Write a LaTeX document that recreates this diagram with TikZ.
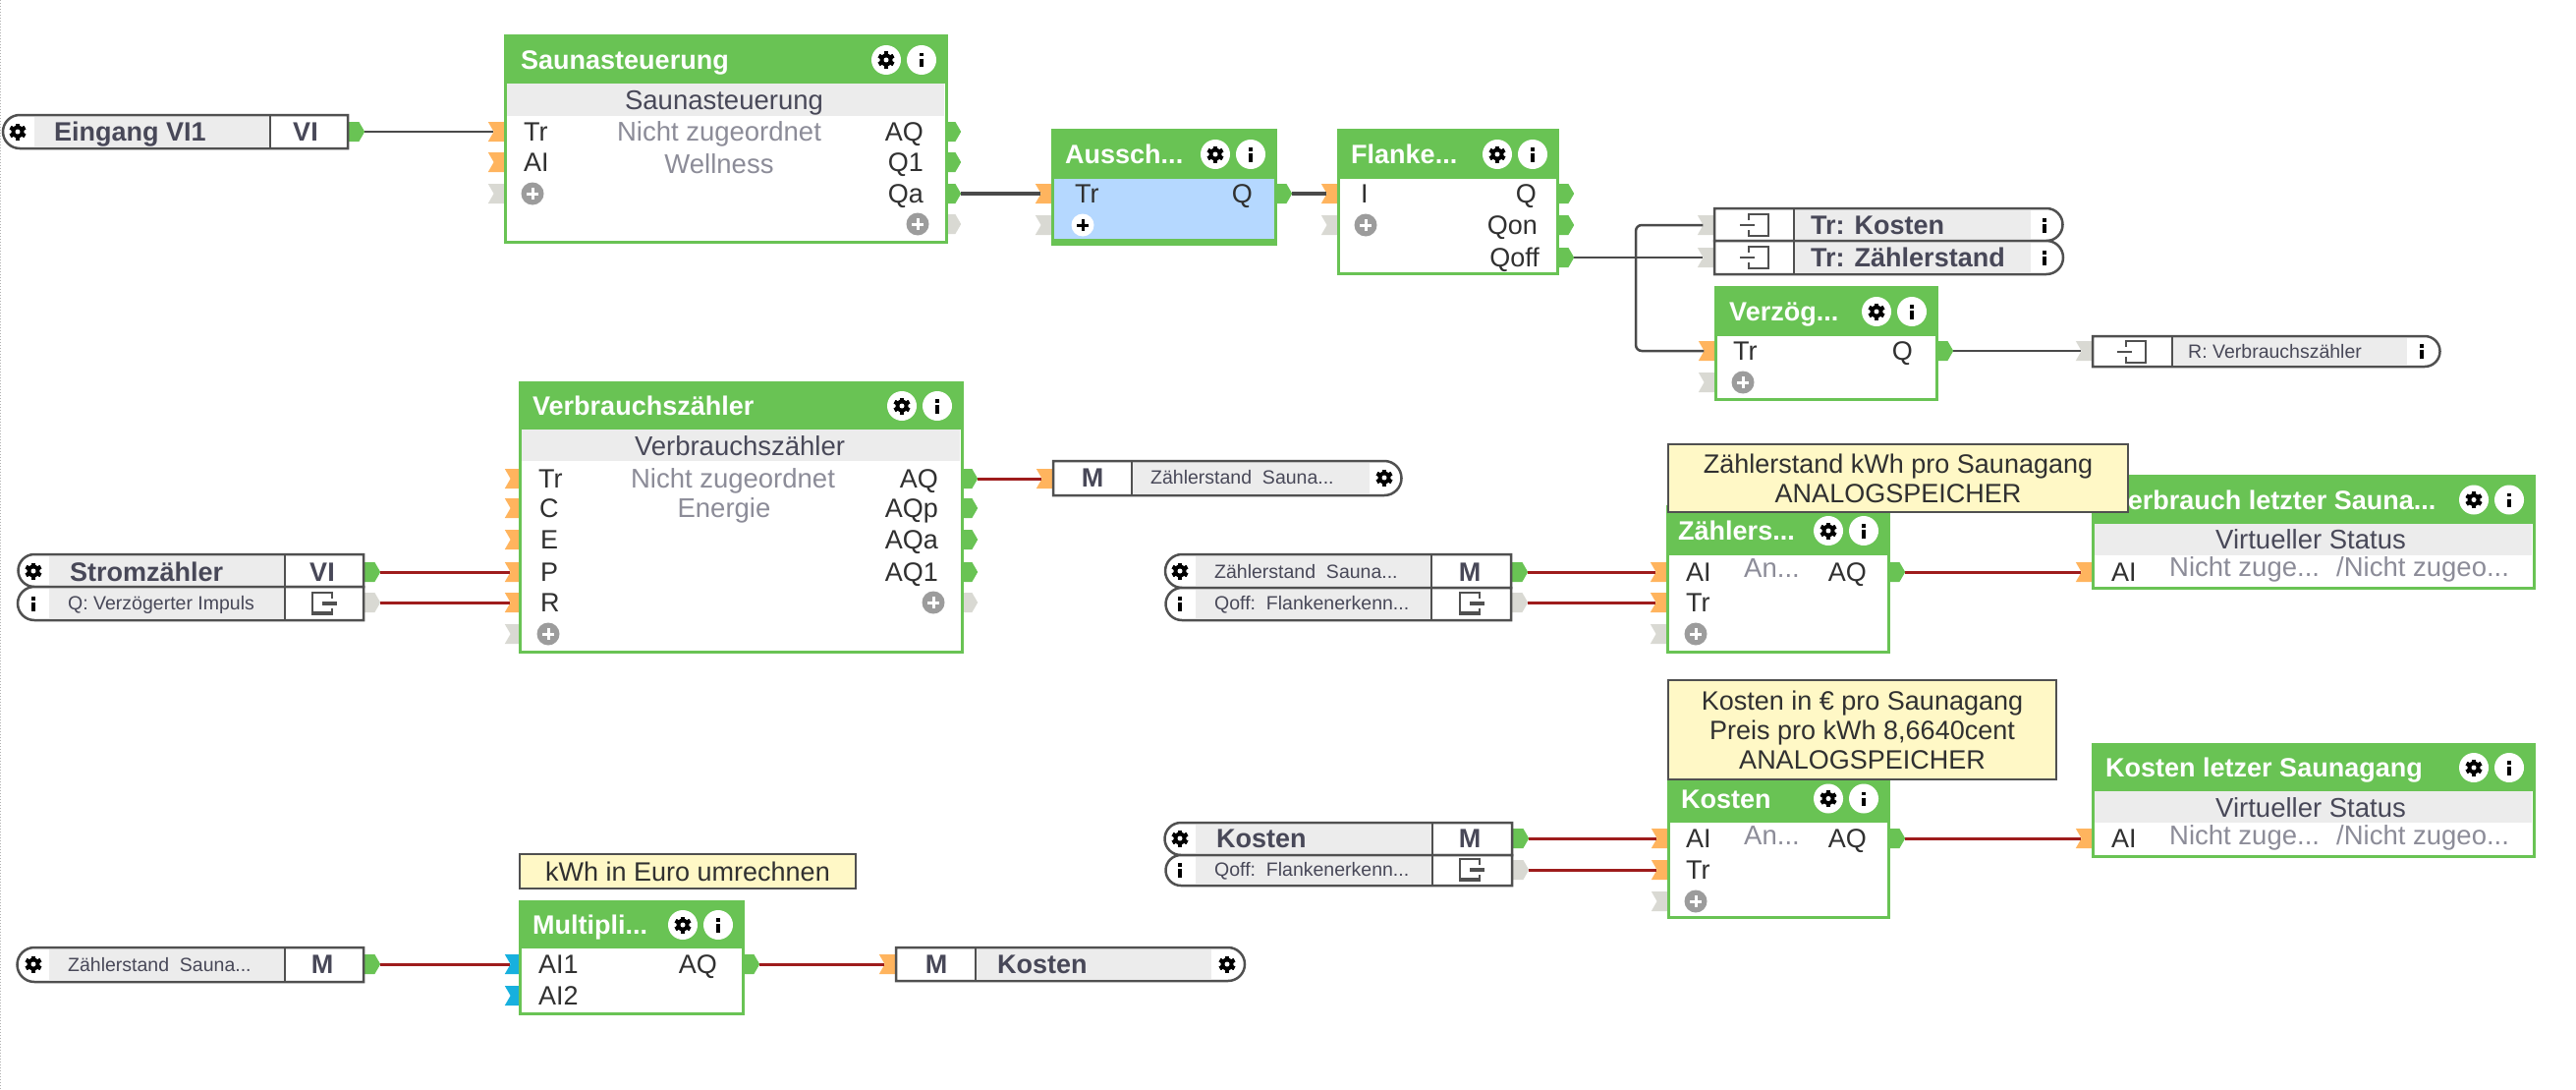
\documentclass[tikz,border=0pt]{standalone}
\usepackage{fontspec}
\setmainfont{Liberation Sans}
\usepackage{xcolor}
\usepackage{tikz}
\usetikzlibrary{
  positioning,
  arrows.meta,
  shapes.misc,
  shapes.symbols,
  fit
}
\newcommand{\tdots}{...}
\definecolor{hdrgreen}{HTML}{69C354}
\definecolor{portorange}{HTML}{FFB45E}
\definecolor{portgray}{HTML}{D9D9D3}
\definecolor{portblue}{HTML}{17B0DE}
\definecolor{bandgray}{HTML}{ECECEC}
\definecolor{selblue}{HTML}{B5D8FF}
\definecolor{notefill}{HTML}{FFF8C6}
\definecolor{capedge}{HTML}{505050}
\definecolor{wiregray}{HTML}{4A4A4A}
\definecolor{wirered}{HTML}{9E1C1C}
\definecolor{plusgray}{HTML}{9C9C9C}
\definecolor{txtdark}{HTML}{303030}
\definecolor{txtband}{HTML}{484858}
\definecolor{txtsoft}{HTML}{8C8C98}
\tikzset{
  inport/.style={signal,signal to=nowhere,signal from=west,signal pointer angle=120,fill=portorange,minimum width=17pt,minimum height=20pt,inner sep=0pt,anchor=east},
  ingray/.style={inport,fill=portgray},
  inblue/.style={inport,fill=portblue},
  outport/.style={signal,signal to=east,signal from=nowhere,signal pointer angle=120,fill=hdrgreen,minimum width=17pt,minimum height=20pt,inner sep=0pt,anchor=west},
  outgray/.style={outport,fill=portgray},
  blockbody/.style={rectangle,draw=hdrgreen,line width=3pt,inner sep=0pt},
  hdr/.style={rectangle,fill=hdrgreen,inner sep=0pt},
  band/.style={rectangle,fill=bandgray,inner sep=0pt},
  capleft/.style={rounded rectangle,rounded rectangle right arc=none,draw=capedge,line width=2.5pt,fill=white,inner sep=0pt},
  capright/.style={rounded rectangle,rounded rectangle left arc=none,draw=capedge,line width=2.5pt,fill=white,inner sep=0pt},
  capline/.style={draw=capedge,line width=2.5pt},
  iconbg/.style={circle,fill=white,minimum size=30pt,inner sep=0pt},
  lbl/.style={inner sep=0pt,text height=19pt,text depth=0pt,anchor=west,text=txtdark,font=\fontsize{27}{31}\selectfont},
  lblr/.style={lbl,anchor=east},
  lblc/.style={lbl,anchor=center},
  softlbl/.style={lbl,text=txtsoft,font=\fontsize{27.5}{31}\selectfont},
  softc/.style={softlbl,anchor=center},
  bandlbl/.style={lblc,text=txtband,font=\fontsize{27.5}{31}\selectfont},
  titlelbl/.style={lbl,text=white,font=\fontsize{27}{31}\selectfont\bfseries},
  boldlbl/.style={lbl,text=txtband,font=\fontsize{27}{31}\selectfont\bfseries},
  boldc/.style={boldlbl,anchor=center},
  smalllbl/.style={lbl,text=txtband,text height=14pt,font=\fontsize{19.5}{22}\selectfont},
  notebox/.style={rectangle,draw=capedge,line width=2.5pt,fill=notefill,align=center,inner sep=0pt,text=txtdark,font=\fontsize{27}{30}\selectfont},
  wire/.style={draw=wiregray,line width=2.5pt},
  thickwire/.style={draw=wiregray,line width=4pt},
  redwire/.style={draw=wirered,line width=3pt},
  gearicon/.pic={
    \foreach \a in {0,60,...,300}
      \fill[black,rotate=\a] (-2,-8.5) rectangle (2,8.5);
    \fill[black] (0,0) circle (6.5);
    \fill[white] (0,0) circle (2.5);
  },
  infoicon/.pic={
    \fill[black] (-2,-7) rectangle (2,-3.5);
    \fill[black] (-2,-1) rectangle (2,7.5);
  },
  plusicon/.pic={
    \fill[plusgray] (0,0) circle (11.5);
    \draw[white,line width=3pt] (-6,0) -- (6,0) (0,-6) -- (0,6);
  },
  pluswhite/.pic={
    \fill[white] (0,0) circle (11.5);
    \draw[black,line width=3pt] (-6,0) -- (6,0) (0,-6) -- (0,6);
  },
  sendicon/.pic={
    \draw[capedge,line width=2.5pt] (-6,-5) -- (-6,-11) -- (14,-11) -- (14,11) -- (-6,11) -- (-6,5) (-15,0) -- (0,0);
  },
  recvicon/.pic={
    \draw[capedge,line width=2.5pt] (8,-5) -- (8,-11) -- (-12,-11) -- (-12,11) -- (8,11) -- (8,5);
    \draw[capedge,line width=4pt] (-2,0) -- (13,0) (-12,10) -- (8,10);
  }
}
\begin{document}
\begin{tikzpicture}[x=1pt,y=-1pt]
    \useasboundingbox (0,0) rectangle (2622,1108);
    \draw[dotted,black!30,line width=1pt] (0.5,0) -- (0.5,1108);

    % Ports
    \foreach \id/\x/\y in {sauTr/514/134,sauAI/514/165,ausTr/1071/197,flaI/1362/197,verTr/1746/357,vbzTr/531/487,vbzC/531/517,vbzE/531/549,vbzP/531/582,vbzR/531/613,zaeAI/1697/582,zaeTr/1697/613,kosAI/1698/853,kosTr/1698/885,vlsAI/2130/582,klsAI/2130/853,zMin/1072/487,kMin/912/981}
        \node[inport] (\id) at (\x,\y) {};
    \foreach \id/\x/\y in {sauPl/514/197,ausPl/1071/229,flaPl/1362/229,verPl/1746/389,vbzPl/531/645,zaePl/1697/645,kosPl/1698/917,trKin/1745/229,trZin/1745/262,rVin/2130/357}
        \node[ingray] (\id) at (\x,\y) {};
    \node[inblue] (mulAa) at (531,981) {};
    \node[inblue] (mulAb) at (531,1013) {};
    \foreach \id/\x/\y in {vieOut/354/134,sauAQ/961/134,sauQe/961/165,sauQa/961/197,ausQ/1298/197,flaQ/1585/197,flaQon/1585/229,flaQoff/1585/262,verQ/1971/357,vbzAQ/978/487,vbzAQp/978/517,vbzAQa/978/549,vbzAQe/978/582,strOut/370/582,zsiOut/1538/582,zaeAQ/1922/582,kosAQ/1922/853,kinOut/1539/853,mulAQ/756/981,lefOut/370/981}
        \node[outport] (\id) at (\x,\y) {};
    \foreach \id/\x/\y in {sauOp/961/228,vbzOp/978/613,impOut/370/613,qofOut/1538/613,qogOut/1539/885}
        \node[outgray] (\id) at (\x,\y) {};

    % Bausteine
    \foreach \id/\xa/\ya/\yh/\xb/\yb/\bg/\tx/\title in {sau/514/37/85/963/246/white/530/Saunasteuerung,aus/1071/132/182/1298/248/selblue/1084/Aussch\tdots,fla/1362/132/182/1585/278/white/1375/Flanke\tdots,ver/1746/292/342/1971/406/white/1760/Verzög\tdots,vbz/529/389/437/979/663/white/542/Verbrauchszähler,zae/1697/515/565/1922/663/white/1708/Zählers\tdots,kos/1698/788/837/1922/933/white/1711/Kosten,mul/529/917/965/756/1031/white/542/Multipli\tdots,vls/2130/484/533/2579/598/white/2149/Verbrauch letzter Sauna\tdots,kls/2130/757/805/2579/871/white/2143/Kosten letzer Saunagang} {
        \node[blockbody,fill=\bg,fit={(\xa,\ya)(\xb,\yb)}] (\id) {};
        \node[hdr,fit={(\xa,\ya)(\xb,\yh)}] (\id head) {};
        \node[titlelbl] (\id title) at (\tx,{(\ya+\yh)/2}) {\title};
        \node[iconbg] (\id gear) at (\xb-61,{(\ya+\yh)/2}) {};
        \node[iconbg] (\id info) at (\xb-25,{(\ya+\yh)/2}) {};
        \pic at (\id gear) {gearicon};
        \pic at (\id info) {infoicon};
    }
    \node[hdr,fit={(1071,243)(1298,248)}] (ausfoot) {};
    \foreach \id/\xa/\ya/\xb/\yb in {sau/516/85/961/118,vbz/531/437/977/469,vls/2132/533/2577/565,kls/2132/805/2577/837}
        \node[band,fit={(\xa,\ya)(\xb,\yb)}] (\id band) {};

    % Merker und Eingaenge
    \foreach \id/\side/\xa/\ya/\xb/\yb/\xd/\xg in {vie/capleft/20/117/354/151/275/35,str/capleft/35/564/370/597/290/50,imp/capleft/35/597/370/631/290/50,zsi/capleft/1203/564/1538/598/1457/1217,qof/capleft/1203/598/1538/631/1457/1217,kin/capleft/1202/837/1539/870/1458/1217,qog/capleft/1202/870/1539/901/1458/1217,lef/capleft/35/964/370/999/290/50,zMc/capright/1072/469/1409/504/1152/1394,kMc/capright/912/964/1250/998/993/1233,trK/capright/1745/212/2083/245/1826/2067,trZ/capright/1745/245/2083/279/1826/2067,rVc/capright/2130/342/2468/373/2211/2450} {
        \node[\side,fit={(\xa,\ya)(\xb,\yb)}] (\id) {};
        \node[band,fit={(\xg,\ya+2)(\xd,\yb-2)}] (\id cell) {};
        \draw[capline] (\xd,\ya) -- (\xd,\yb);
    }

    % Verbindungen
    \draw[wire] (vieOut.east) -- (sauTr.west);
    \draw[thickwire] (sauQa.east) -- (ausTr.west);
    \draw[thickwire] (ausQ.east) -- (flaI.west);
    \coordinate (busQoff) at (1665,262);
    \draw[wire] (flaQoff.east) -- (trZin.west);
    \draw[wire,rounded corners=6pt] (busQoff) |- (trKin.west);
    \draw[wire,rounded corners=6pt] (busQoff) |- (verTr.west);
    \draw[wire] (verQ.east) -- (rVin.west);
    \foreach \a/\b in {strOut/vbzP,impOut/vbzR,vbzAQ/zMin,zsiOut/zaeAI,qofOut/zaeTr,zaeAQ/vlsAI,kinOut/kosAI,qogOut/kosTr,kosAQ/klsAI,lefOut/mulAa,mulAQ/kMin}
        \draw[redwire] (\a.east) -- (\b.west);

    % Beschriftung
    \foreach \x/\y/\txt [count=\n] in {533/134/Tr,533/165/AI,1094/197/Tr,1385/197/I,1764/357/Tr,548/487/Tr,549/517/C,550/549/E,550/582/P,550/613/R,1716/582/AI,1716/613/Tr,1716/853/AI,1716/885/Tr,548/981/AI1,548/1013/AI2,2149/582/AI,2149/853/AI}
        \node[lbl] (pin\n) at (\x,\y) {\txt};
    \foreach \x/\y/\txt [count=\n] in {940/134/AQ,940/165/Q1,940/197/Qa,1275/197/Q,1564/197/Q,1565/229/Qon,1567/262/Qoff,1947/357/Q,955/487/AQ,955/517/AQp,955/549/AQa,955/582/AQ1,1900/582/AQ,1900/853/AQ,730/981/AQ}
        \node[lblr] (pout\n) at (\x,\y) {\txt};
    \foreach \x/\y/\txt [count=\n] in {732/134/Nicht zugeordnet,732/167/Wellness,746/487/Nicht zugeordnet,737/517/Energie}
        \node[softc] (soft\n) at (\x,\y) {\txt};
    \foreach \x/\y/\txt [count=\n] in {1775/578/An\tdots,1775/850/An\tdots,2208/577/Nicht zuge\tdots,2378/577/{/Nicht zugeo\tdots},2208/850/Nicht zuge\tdots,2378/850/{/Nicht zugeo\tdots}}
        \node[softlbl] (stat\n) at (\x,\y) {\txt};
    \foreach \x/\y/\txt [count=\n] in {737/102/Saunasteuerung,753/454/Verbrauchszähler,2352/549/Virtueller Status,2352/822/Virtueller Status}
        \node[bandlbl] (bandtxt\n) at (\x,\y) {\txt};
    \foreach \x/\y/\txt [count=\n] in {55/134/Eingang VI1,71/582/Stromzähler,1238/853/Kosten,1015/981/Kosten,1843/229/Tr: Kosten,1843/262/Tr: Zählerstand}
        \node[boldlbl] (bold\n) at (\x,\y) {\txt};
    \foreach \x/\y/\txt [count=\n] in {311/134/VI,328/582/VI,1496/582/M,1496/853/M,328/981/M,1112/486/M,953/981/M}
        \node[boldc] (cell\n) at (\x,\y) {\txt};
    \foreach \x/\y/\txt [count=\n] in {69/613/Q: Verzögerter Impuls,1236/581/Zählerstand\ \ Sauna\tdots,1236/613/Qoff:\ \ Flankenerkenn\tdots,1236/884/Qoff:\ \ Flankenerkenn\tdots,69/981/Zählerstand\ \ Sauna\tdots,1171/485/Zählerstand\ \ Sauna\tdots,2227/357/R: Verbrauchszähler}
        \node[smalllbl] (small\n) at (\x,\y) {\txt};

    % Symbole
    \foreach \x/\y in {18/134,34/581,1201/581,1201/853,34/981,1409/486,1249/981}
        \pic at (\x,\y) {gearicon};
    \foreach \x/\y in {34/614,1201/614,1201/885,2081/229,2081/262,2465/357}
        \pic at (\x,\y) {infoicon};
    \foreach \x/\y in {542/197,934/228,1390/229,1774/389,558/645,950/613,1726/645,1726/917}
        \pic at (\x,\y) {plusicon};
    \pic at (1102,229) {pluswhite};
    \foreach \x/\y in {1786/229,1786/262,2170/358}
        \pic at (\x,\y) {sendicon};
    \foreach \x/\y in {330/614,1498/614,1498/885}
        \pic at (\x,\y) {recvicon};

    % Notizen
    \node[notebox,minimum width=468pt,minimum height=69pt] (noteZae) at (1932,486.5) {Zählerstand kWh pro Saunagang\\ANALOGSPEICHER};
    \node[notebox,minimum width=395pt,minimum height=101pt] (noteKos) at (1895.5,742.5) {Kosten in € pro Saunagang\\Preis pro kWh 8,6640cent\\ANALOGSPEICHER};
    \node[notebox,minimum width=342pt,minimum height=35pt] (noteEur) at (700,886.5) {kWh in Euro umrechnen};
\end{tikzpicture}
\end{document}
